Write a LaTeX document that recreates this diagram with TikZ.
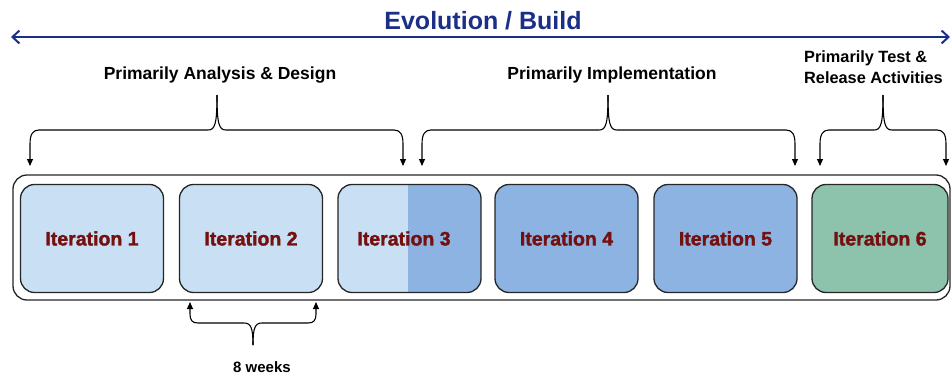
\documentclass[tikz,border=0pt]{standalone}
\usepackage{fontspec}
\setmainfont{Liberation Sans}
\newfontfamily\heavyfont[BoldFeatures={FakeBold=1.6}]{Liberation Sans}
\usetikzlibrary{arrows.meta}

\definecolor{navy}{HTML}{1B2F86}
\definecolor{lightblue}{HTML}{C9DFF4}
\definecolor{midblue}{HTML}{8DB3E3}
\definecolor{seagreen}{HTML}{8DC3AC}
\definecolor{itred}{HTML}{741010}
\definecolor{edgegray}{HTML}{262626}

\tikzset{
  itertext/.style={font=\heavyfont\fontsize{19.5}{22}\selectfont\bfseries, text=itred},
  iterbox/.style={itertext, draw=edgegray, line width=1.3pt, rounded corners=14pt,
    minimum width=143pt, minimum height=108pt, inner sep=0pt},
  phase/.style={font=\fontsize{17.5}{21}\selectfont\bfseries, text=black, inner sep=0pt},
  bracket/.style={draw=black, line width=1.1pt},
  tipped/.style={bracket, -{Triangle[length=7pt,width=6pt]}},
}

% one curly bracket: left end, peak, right end (peak on top, arrows down)
\newcommand{\downbracket}[3]{%
  \draw[tipped] (#2,95) .. controls (#2,124) and (#2-2,130) .. (#2-9,130)
     -- (#1+9,130) .. controls (#1+3,130) and (#1,134) .. (#1,144) -- (#1,166);
  \draw[tipped] (#2,95) .. controls (#2,124) and (#2+2,130) .. (#2+9,130)
     -- (#3-9,130) .. controls (#3-3,130) and (#3,134) .. (#3,144) -- (#3,166);
}

\begin{document}
\begin{tikzpicture}[x=1pt,y=-1pt]
\useasboundingbox (0,0) rectangle (951,375);
\fill[white] (0,0) rectangle (951,375);

% timeline
\node[font=\fontsize{25}{28}\selectfont\bfseries, text=navy, inner sep=0pt] (title) at (483,21) {Evolution / Build};
\coordinate (tl) at (11,37);
\coordinate (tr) at (950,37);
\draw[navy, line width=2pt, {Straight Barb[length=7pt,width=13pt]}-{Straight Barb[length=7pt,width=13pt]}] (tl) -- (tr);

% phase labels
\node[phase] (ad) at (220,75) {Primarily Analysis \& Design};
\node[phase] (impl) at (612,75) {Primarily Implementation};
\node[phase, font=\fontsize{16.3}{21}\selectfont\bfseries, anchor=west, align=left] (test) at (804,67.5)
  {Primarily Test \&\\Release Activities};

% brackets
\downbracket{30}{217}{403}
\downbracket{422}{608}{795}
\downbracket{820}{883}{946}

% container
\draw[edgegray, line width=1.3pt, rounded corners=14pt] (13,175) rectangle (950,300);

% iterations
\node[iterbox, fill=lightblue] (it1) at (92,238.5) {Iteration 1};
\node[iterbox, fill=lightblue] (it2) at (251,238.5) {Iteration 2};
\begin{scope}
  \clip[rounded corners=14pt] (338,184.5) rectangle (481,292.5);
  \fill[lightblue] (338,184.5) rectangle (408,292.5);
  \fill[midblue] (408,184.5) rectangle (481,292.5);
\end{scope}
\node[iterbox] (it3) at (409.5,238.5) {};
\node[itertext] at (404,238.5) {Iteration 3};
\node[iterbox, fill=midblue] (it4) at (566.5,238.5) {Iteration 4};
\node[iterbox, fill=midblue] (it5) at (725.5,238.5) {Iteration 5};
\node[iterbox, fill=seagreen, minimum width=136pt] (it6) at (880,238.5) {Iteration 6};

% duration bracket under iteration 2
\draw[tipped] (253,345) .. controls (253,328) and (251,323) .. (244,323)
   -- (198,323) .. controls (192,323) and (190,320) .. (190,314) -- (190,302);
\draw[tipped] (253,345) .. controls (253,328) and (255,323) .. (262,323)
   -- (308,323) .. controls (314,323) and (316,320) .. (316,314) -- (316,302);
\node[phase, font=\fontsize{15}{18}\selectfont\bfseries] (weeks) at (262,367) {8 weeks};
\end{tikzpicture}
\end{document}
